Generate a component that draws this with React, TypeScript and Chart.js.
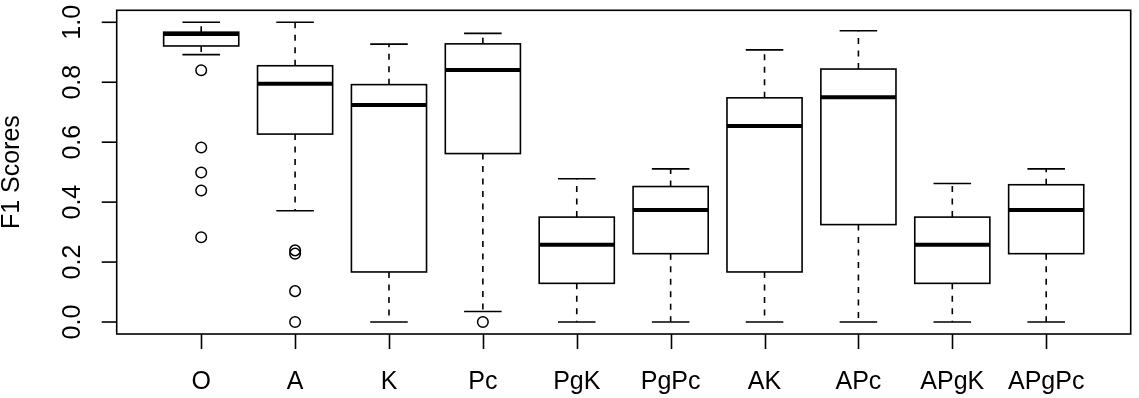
import React, { useEffect, useRef } from "react";
import { Chart, registerables } from "chart.js";

Chart.register(...registerables);

const categories = ["O", "A", "K", "Pc", "PgK", "PgPc", "AK", "APc", "APgK", "APgPc"];
const whiskerLow = [0.892, 0.371, 0.0, 0.035, 0.0, 0.0, 0.0, 0.0, 0.0, 0.0];
const q1 = [0.921, 0.627, 0.167, 0.562, 0.129, 0.228, 0.167, 0.325, 0.129, 0.228];
const median = [0.961, 0.795, 0.724, 0.841, 0.258, 0.374, 0.654, 0.75, 0.258, 0.374];
const q3 = [0.967, 0.855, 0.792, 0.928, 0.35, 0.452, 0.748, 0.844, 0.35, 0.458];
const whiskerHigh = [1.0, 1.0, 0.927, 0.963, 0.478, 0.511, 0.908, 0.972, 0.462, 0.511];
const outliersO = [0.84, 0.582, 0.499, 0.439, 0.283];
const outliersA = [0.239, 0.228, 0.103, 0.0];
const outliersPc = [0.0];
const yTicks = [0, 0.2, 0.4, 0.6, 0.8, 1.0];
const yTickLabels = ["0.0", "0.2", "0.4", "0.6", "0.8", "1.0"];

const FONT = "'Liberation Sans', Arial, Helvetica, sans-serif";
const LW = 1.6;

const boxPlugin = {
  id: "boxplotDraw",
  beforeDatasetsDraw(chart: any) {
    const { ctx, scales } = chart;
    const xs = scales.x;
    const ys = scales.y;
    ctx.save();
    ctx.strokeStyle = "#000";
    ctx.lineCap = "butt";
    categories.forEach((_, i) => {
      const c = i + 1;
      const xc = xs.getPixelForValue(c);
      const xl = xs.getPixelForValue(c - 0.4);
      const xr = xs.getPixelForValue(c + 0.4);
      const sl = xs.getPixelForValue(c - 0.2);
      const sr = xs.getPixelForValue(c + 0.2);
      const yLo = ys.getPixelForValue(whiskerLow[i]);
      const yQ1 = ys.getPixelForValue(q1[i]);
      const yMed = ys.getPixelForValue(median[i]);
      const yQ3 = ys.getPixelForValue(q3[i]);
      const yHi = ys.getPixelForValue(whiskerHigh[i]);
      ctx.lineWidth = LW;
      ctx.setLineDash([6, 6.5]);
      ctx.beginPath();
      ctx.moveTo(xc, yQ3);
      ctx.lineTo(xc, yHi);
      ctx.moveTo(xc, yQ1);
      ctx.lineTo(xc, yLo);
      ctx.stroke();
      ctx.setLineDash([]);
      ctx.beginPath();
      ctx.moveTo(sl, yHi);
      ctx.lineTo(sr, yHi);
      ctx.moveTo(sl, yLo);
      ctx.lineTo(sr, yLo);
      ctx.stroke();
      ctx.fillStyle = "#fff";
      ctx.fillRect(xl, yQ3, xr - xl, yQ1 - yQ3);
      ctx.strokeRect(xl, yQ3, xr - xl, yQ1 - yQ3);
      ctx.lineWidth = 4;
      ctx.beginPath();
      ctx.moveTo(xl, yMed);
      ctx.lineTo(xr, yMed);
      ctx.stroke();
    });
    ctx.restore();
  },
  afterDraw(chart: any) {
    const { ctx, chartArea, scales } = chart;
    const xs = scales.x;
    const ys = scales.y;
    ctx.save();
    ctx.strokeStyle = "#000";
    ctx.lineWidth = LW;
    ctx.setLineDash([]);
    ctx.strokeRect(chartArea.left, chartArea.top, chartArea.right - chartArea.left, chartArea.bottom - chartArea.top);
    const bottom = chartArea.bottom;
    const left = chartArea.left;
    for (let i = 0; i < categories.length; i++) {
      const x = Math.round(xs.getPixelForValue(i + 1)) + 0.5;
      ctx.beginPath();
      ctx.moveTo(x, bottom);
      ctx.lineTo(x, bottom + 15);
      ctx.stroke();
    }
    for (let i = 0; i < yTicks.length; i++) {
      const y = ys.getPixelForValue(yTicks[i]);
      ctx.beginPath();
      ctx.moveTo(left, y);
      ctx.lineTo(left - 15, y);
      ctx.stroke();
    }
    ctx.fillStyle = "#000";
    ctx.font = `25px ${FONT}`;
    ctx.textAlign = "center";
    ctx.textBaseline = "middle";
    yTicks.forEach((v, i) => {
      const y = ys.getPixelForValue(v);
      ctx.save();
      ctx.translate(72, y);
      ctx.rotate(-Math.PI / 2);
      ctx.fillText(yTickLabels[i], 0, 1);
      ctx.restore();
    });
    ctx.restore();
  },
};

export default function App() {
  const ref = useRef<HTMLCanvasElement | null>(null);
  useEffect(() => {
    document.body.style.margin = "0";
    if (!ref.current) return;
    const outlierPoints = [
      ...outliersO.map((v) => ({ x: 1, y: v })),
      ...outliersA.map((v) => ({ x: 2, y: v })),
      ...outliersPc.map((v) => ({ x: 4, y: v })),
    ];
    const chart = new Chart(ref.current, {
      type: "scatter",
      data: {
        datasets: [
          {
            label: "outliers",
            data: outlierPoints,
            pointStyle: "circle",
            pointRadius: 5.3,
            pointBorderWidth: 1.5,
            borderColor: "#000",
            backgroundColor: "rgba(0,0,0,0)",
          } as any,
        ],
      },
      options: {
        animation: false,
        responsive: false,
        devicePixelRatio: 1,
        layout: { padding: { top: 10.3, right: 8.3, left: 0, bottom: 0 } },
        plugins: { legend: { display: false }, tooltip: { enabled: false } },
        scales: {
          x: {
            type: "linear",
            min: 0.1,
            max: 10.9,
            afterBuildTicks: (s: any) => {
              s.ticks = categories.map((_, i) => ({ value: i + 1 }));
            },
            afterFit: (s: any) => {
              s.height = 64;
            },
            ticks: {
              autoSkip: false,
              maxRotation: 0,
              minRotation: 0,
              padding: 25,
              color: "#000",
              font: { family: FONT, size: 25 },
              callback: (v: any) => categories[Number(v) - 1] ?? "",
            },
            grid: { display: false },
            border: { display: false },
          },
          y: {
            type: "linear",
            min: -0.04,
            max: 1.04,
            afterBuildTicks: (s: any) => {
              s.ticks = yTicks.map((v) => ({ value: v }));
            },
            afterFit: (s: any) => {
              s.width = 116.7;
            },
            ticks: { display: false },
            grid: { display: false },
            border: { display: false },
            title: {
              display: true,
              text: "F1 Scores",
              color: "#000",
              font: { family: FONT, size: 25, lineHeight: 1 },
              padding: { top: 0, bottom: 0 },
            },
          },
        },
      },
      plugins: [boxPlugin],
    });
    return () => chart.destroy();
  }, []);
  return (
    <div style={{ position: "absolute", left: 0, top: 0, width: 1139, height: 398, background: "#fff" }}>
      <canvas ref={ref} width={1139} height={398} />
    </div>
  );
}
